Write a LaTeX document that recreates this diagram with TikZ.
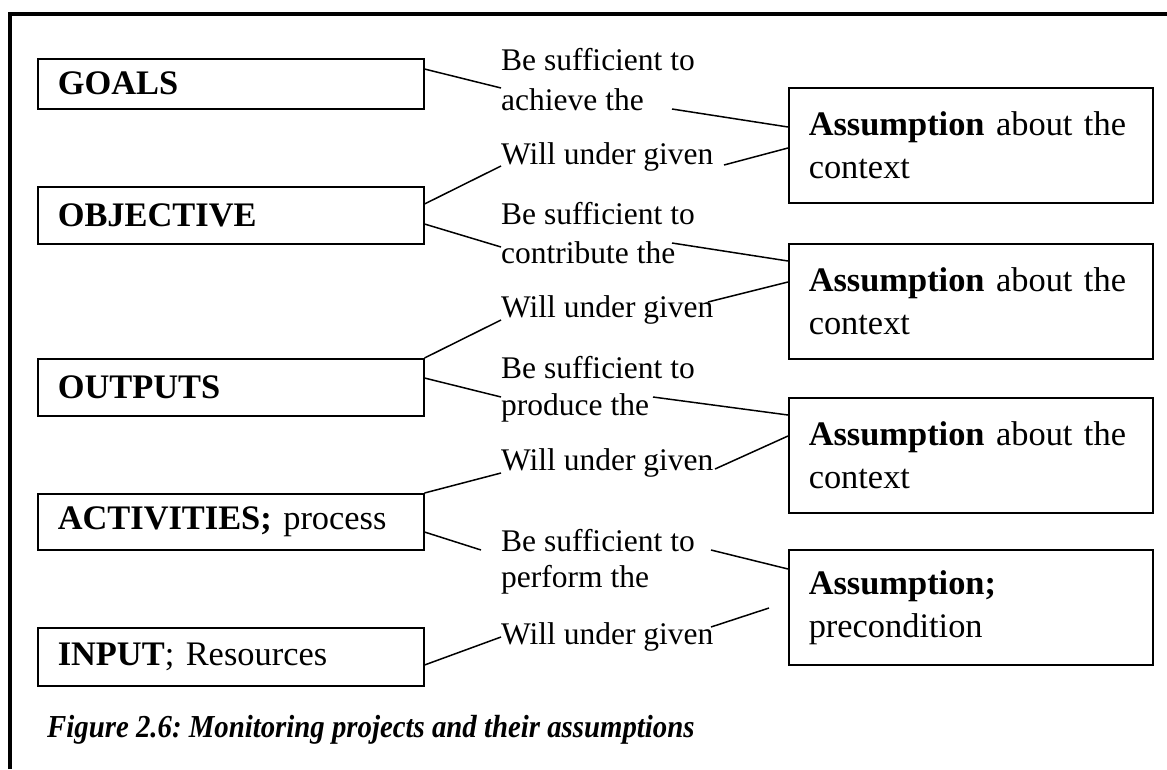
\documentclass[tikz,border=0pt]{standalone}
\usepackage{fontspec}
\setmainfont{Liberation Serif}
\frenchspacing
\begin{document}
\begin{tikzpicture}[x=1pt,y=-1pt]
\tikzstyle{every node}+=[inner sep=0pt, font=\fontsize{31.5}{40}\selectfont]
\tikzstyle{level}=[draw, line width=1.5pt, anchor=north west, text width=346pt, inner xsep=20pt, align=left, font=\fontsize{34.4}{43}\selectfont]
\tikzstyle{ctx}=[draw, line width=1.5pt, anchor=north west, minimum height=115pt, text width=324pt, inner xsep=20pt, align=left, font=\fontsize{34.4}{43}\selectfont]
\tikzstyle{say}=[anchor=west]
\tikzstyle{link}=[line width=1.5pt]
\useasboundingbox (0,0) rectangle (1167,769);
\draw[line width=4pt] (10,769) -- (10,14) -- (1167,14);
% levels of the project
\node[level, minimum height=50pt] (goals) at (37,58) {\textbf{GOALS}};
\node[level, minimum height=57pt] (objective) at (37,186) {\textbf{OBJECTIVE}};
\node[level, minimum height=57pt] (outputs) at (37,358) {\textbf{OUTPUTS}};
\node[level, minimum height=56pt] (activities) at (37,493) {\textbf{ACTIVITIES;} process};
\node[level, minimum height=58pt] (input) at (37,627) {\textbf{INPUT}; Resources};
% assumptions
\node[ctx] (context1) at (788,87) {\textbf{Assumption} about the\\context};
\node[ctx] (context2) at (788,243) {\textbf{Assumption} about the\\context};
\node[ctx] (context3) at (788,397) {\textbf{Assumption} about the\\context};
\node[ctx] (precond) at (788,549) {\textbf{Assumption;}\\precondition};
% texts in between
\node[say] (suff1) at (501,60) {Be sufficient to};
\node[say] (achieve) at (501,100) {achieve the};
\node[say] (will1) at (501,157) {Will under given};
\node[say] (suff2) at (501,214) {Be sufficient to};
\node[say] (contribute) at (501,253) {contribute the};
\node[say] (will2) at (501,310) {Will under given};
\node[say] (suff3) at (501,368) {Be sufficient to};
\node[say] (produce) at (501,408) {produce the};
\node[say] (will3) at (501,463) {Will under given};
\node[say] (suff4) at (501,541) {Be sufficient to};
\node[say] (perform) at (501,580) {perform the};
\node[say] (will4) at (501,637) {Will under given};
\node[anchor=west, font=\fontsize{32}{38}\selectfont\bfseries\itshape] (caption) at (47,730) {\scalebox{0.9}[1]{Figure 2.6: Monitoring projects and their assumptions}};
% lines to the left
\draw[link] ([yshift=-11pt]goals.north east) -- ([yshift=12pt]achieve.west);
\draw[link] ([yshift=-18pt]objective.north east) -- ([yshift=-9pt]will1.west);
\draw[link] ([yshift=-38pt]objective.north east) -- ([yshift=6pt]contribute.west);
\draw[link] (outputs.north east) -- ([yshift=-10pt]will2.west);
\draw[link] ([yshift=-20pt]outputs.north east) -- ([yshift=11pt]produce.west);
\draw[link] (activities.north east) -- ([yshift=-10pt]will3.west);
\draw[link] ([yshift=-39pt]activities.north east) -- ([xshift=-20pt,yshift=-9pt]suff4.west);
\draw[link] ([yshift=-38pt]input.north east) -- (will4.west);
% lines to the right
\draw[link] ([xshift=171pt,yshift=-9pt]achieve.west) -- ([yshift=-40pt]context1.north west);
\draw[link] ([xshift=223pt,yshift=-8pt]will1.west) -- ([yshift=-61pt]context1.north west);
\draw[link] ([xshift=171pt,yshift=10pt]contribute.west) -- ([yshift=-18pt]context2.north west);
\draw[link] ([xshift=207pt,yshift=8pt]will2.west) -- ([yshift=-39pt]context2.north west);
\draw[link] ([xshift=152pt,yshift=11pt]produce.west) -- ([yshift=-18pt]context3.north west);
\draw[link] ([xshift=214pt,yshift=-6pt]will3.west) -- ([yshift=-39pt]context3.north west);
\draw[link] ([xshift=210pt,yshift=-9pt]suff4.west) -- ([yshift=-20pt]precond.north west);
\draw[link] ([xshift=210pt,yshift=10pt]will4.west) -- ([xshift=-19pt,yshift=-59pt]precond.north west);
\end{tikzpicture}
\end{document}
